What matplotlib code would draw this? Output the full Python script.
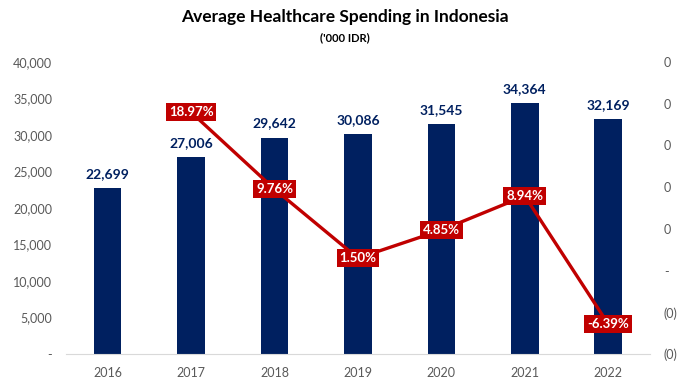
import matplotlib.pyplot as plt
from matplotlib.ticker import FuncFormatter

years = ['2016', '2017', '2018', '2019', '2020', '2021', '2022']
spending = [22699, 27006, 29642, 30086, 31545, 34364, 32169]
growth_years = ['2017', '2018', '2019', '2020', '2021', '2022']
growth = [0.1897, 0.0976, 0.0150, 0.0485, 0.0894, -0.0639]

navy = '#002060'
red = '#C00000'
grey = '#595959'

plt.rcParams['font.family'] = ['Lato', 'DejaVu Sans']

fig = plt.figure(figsize=(6.87, 3.82), dpi=100)
ax = fig.add_axes([0.096, 0.073, 0.85, 0.765])

x = list(range(len(years)))
bars = ax.bar(x, spending, width=0.33, color=navy, zorder=2)
for xi, v in zip(x, spending):
    ax.text(xi, v + 1100, f'{v:,}', ha='center', va='bottom', color=navy,
            fontsize=10, fontweight='bold')

ax.set_ylim(0, 40000)
ax.set_xlim(-0.5, 6.5)
ax.set_yticks(range(0, 40001, 5000))
ax.yaxis.set_major_formatter(FuncFormatter(lambda v, p: '-' if v == 0 else f'{int(v):,}'))
ax.set_xticks(x)
ax.set_xticklabels(years)
for s in ['top', 'right', 'left']:
    ax.spines[s].set_visible(False)
ax.spines['bottom'].set_color('#D9D9D9')
ax.tick_params(axis='both', length=0, colors=grey, labelsize=9)
ax.tick_params(axis='x', pad=9)
ax.tick_params(axis='y', pad=10)

ax2 = ax.twinx()
gx = [years.index(y) for y in growth_years]
ax2.plot(gx, growth, color=red, lw=2.4, zorder=3)
for xi, g in zip(gx, growth):
    ax2.text(xi, g, f'{g * 100:.2f}%', ha='center', va='center', color='white',
             fontsize=9.5, fontweight='bold', zorder=4,
             bbox=dict(boxstyle='square,pad=0.22', fc=red, ec='none'))
ax2.set_ylim(-0.1, 0.25)
ax2.set_yticks([-0.1, -0.05, 0, 0.05, 0.1, 0.15, 0.2, 0.25])


def acct(v, p):
    if abs(v) < 1e-9:
        return '-'
    if v < 0:
        return '(0)'
    return '0'


ax2.yaxis.set_major_formatter(FuncFormatter(acct))
for s in ['top', 'right', 'left', 'bottom']:
    ax2.spines[s].set_visible(False)
ax2.tick_params(axis='y', length=0, colors=grey, labelsize=9, pad=10)

fig.text(0.502, 0.955, 'Average Healthcare Spending in Indonesia', ha='center', va='center',
         fontsize=12.5, fontweight='bold', color='black')
fig.text(0.502, 0.902, "('000 IDR)", ha='center', va='center',
         fontsize=8, fontweight='bold', color='black')

fig.savefig('out.png', dpi=100)
